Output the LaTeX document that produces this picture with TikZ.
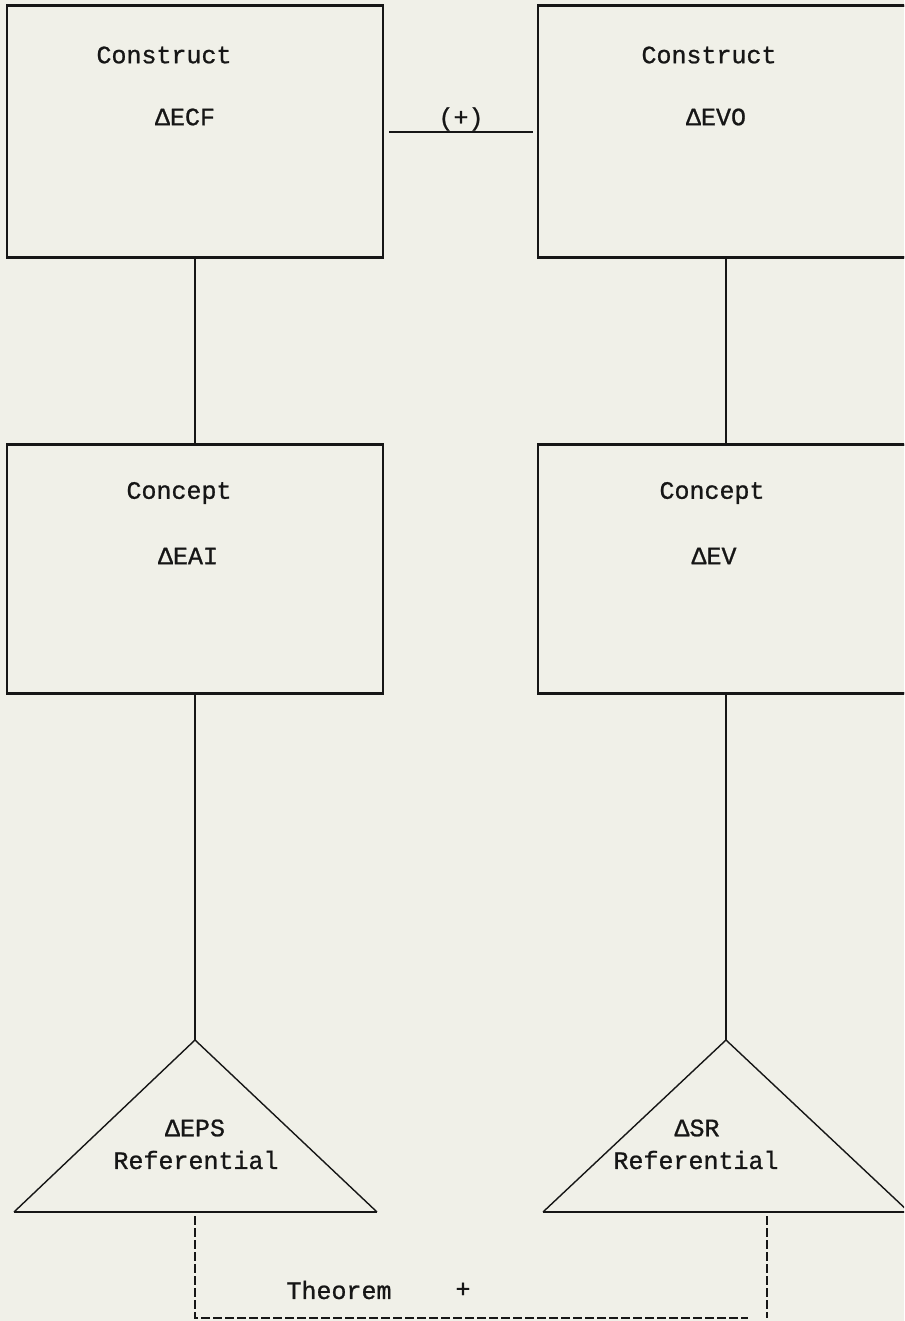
\documentclass[tikz,border=0pt]{standalone}
\usepackage{fontspec}
\setmainfont{Liberation Mono}
\newfontfamily\tw{Liberation Mono}[FakeBold=0.9]
\definecolor{paper}{RGB}{240,240,232}
\definecolor{ink}{RGB}{22,22,22}
\begin{document}
\begin{tikzpicture}[x=1pt,y=-1pt,
  box/.style={draw=ink, line width=1.5pt, minimum width=376pt, inner sep=0pt},
  edge/.style={draw=ink, line width=2.6pt},
  link/.style={draw=ink, line width=1.4pt},
  dline/.style={draw=ink, line width=1.3pt, dash pattern=on 9pt off 3pt},
  lbl/.style={text=ink, font=\tw\fontsize{25}{28}\selectfont, inner sep=0pt, anchor=center}]
\clip (0,0) rectangle (904,1321);
\fill[paper] (0,0) rectangle (904,1321);

% boxes
\node[box, minimum height=251pt] (cf) at (195,131.5) {};
\node[box, minimum height=251pt] (evo) at (726,131.5) {};
\node[box, minimum height=248pt] (eai) at (195,569) {};
\node[box, minimum height=248pt] (ev) at (726,569) {};
\foreach \b in {cf,evo,eai,ev}{
  \draw[edge] (\b.north west) -- (\b.north east);
  \draw[edge] (\b.south west) -- (\b.south east);
}

% box texts
\node[lbl] (t1) at (164,55) {Construct};
\node[lbl] (t2) at (185,117) {ΔECF};
\node[lbl] (t3) at (709,55) {Construct};
\node[lbl] (t4) at (716,117) {ΔEVO};
\node[lbl] (t5) at (179,493) {Concept};
\node[lbl] (t6) at (188,556) {ΔEAI};
\node[lbl] (t7) at (712,493) {Concept};
\node[lbl] (t8) at (714,556) {ΔEV};

% (+) link
\coordinate (pa) at (389,132);
\coordinate (pb) at (533,132);
\draw[edge, line width=2pt] (pa) -- (pb);
\node[lbl] (plus) at (461,119) {(+)};

% vertical links
\draw[link] (cf.south) -- (eai.north);
\draw[link] (evo.south) -- (ev.north);

% triangles
\coordinate (la) at (195,1040);
\coordinate (lbl1) at (14,1212);
\coordinate (lbr) at (377,1212);
\coordinate (ra) at (726,1040);
\coordinate (rbl) at (543,1212);
\coordinate (rbr) at (909,1212);
\draw[link] (eai.south) -- (la);
\draw[link] (ev.south) -- (ra);
\draw[link] (lbl1) -- (la) -- (lbr);
\draw[link] (rbl) -- (ra) -- (rbr);
\draw[edge, line width=2.4pt] (lbl1) -- (lbr);
\draw[edge, line width=2.4pt] (rbl) -- (rbr);

\node[lbl] (t9) at (195,1128) {ΔEPS};
\node[lbl] (t10) at (196,1160) {Referential};
\node[lbl] (t11) at (697,1128) {ΔSR};
\node[lbl] (t12) at (696,1160) {Referential};

% theorem (dashed)
\coordinate (d1) at (195,1216);
\coordinate (d2) at (195,1318);
\coordinate (d3) at (748,1318);
\coordinate (d4) at (767,1216);
\coordinate (d5) at (767,1318);
\draw[dline] (d1) -- (d2) -- (d3);
\draw[dline] (d4) -- (d5);
\node[lbl] (th) at (339,1290) {Theorem};
\node[lbl] (thp) at (463,1290) {+};
\end{tikzpicture}
\end{document}
